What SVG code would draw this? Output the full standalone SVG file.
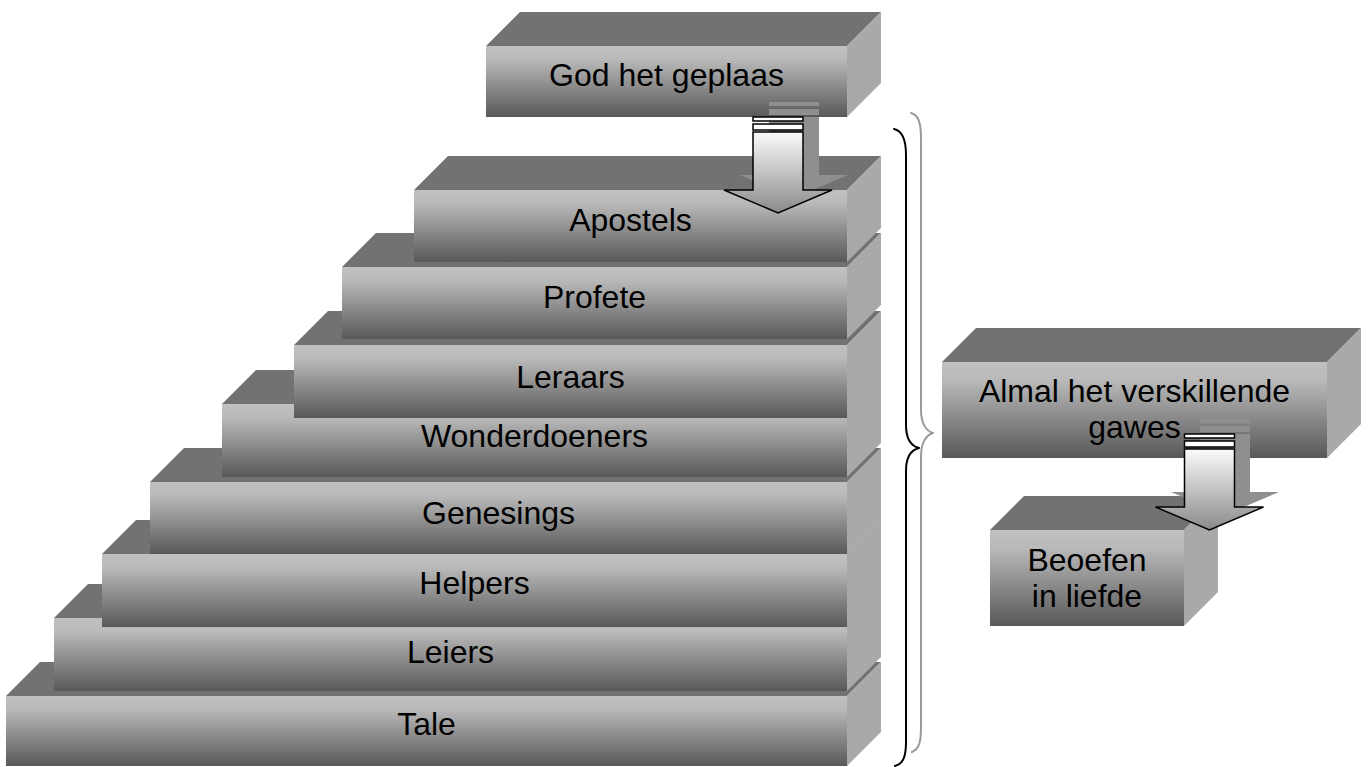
<svg xmlns="http://www.w3.org/2000/svg" xmlns:xlink="http://www.w3.org/1999/xlink" width="1371" height="767" viewBox="0 0 1371 767">
  <style>
    .front { fill: url(#frontGrad); }
    .top { fill: #727272; }
    .side { fill: #a9a9a9; }
    .label { font-family: "Liberation Sans", Arial, sans-serif; font-size: 32px; fill: #000; text-anchor: middle; }
    .brace { fill: none; stroke-width: 2; stroke-linecap: round; stroke-linejoin: round; }
  </style>
  <defs>
    <linearGradient id="frontGrad" x1="0" y1="0" x2="0" y2="1">
      <stop offset="0" stop-color="#c0c0c0"/>
      <stop offset="0.18" stop-color="#bababa"/>
      <stop offset="1" stop-color="#585858"/>
    </linearGradient>
    <linearGradient id="arrowGrad" x1="0" y1="0" x2="0" y2="1">
      <stop offset="0" stop-color="#fbfbfb"/>
      <stop offset="1" stop-color="#8a8a8a"/>
    </linearGradient>
    <!-- striped down arrow, origin at top centre of the first stripe -->
    <g id="arrowShadow" fill="#8f8f8f">
      <rect x="-25" y="0" width="50" height="4"/>
      <rect x="-25" y="7" width="50" height="6"/>
      <path d="M -25,15 L 25,15 L 25,73 L 54,73 L 0,96 L -54,73 L -25,73 Z"/>
    </g>
    <g id="arrowBody" stroke="#000" stroke-width="1.5" stroke-linejoin="miter">
      <rect x="-25" y="0" width="50" height="4" fill="#ffffff"/>
      <rect x="-25" y="7" width="50" height="6" fill="#ffffff"/>
      <path d="M -25,15 L 25,15 L 25,73 L 54,73 L 0,96 L -54,73 L -25,73 Z" fill="url(#arrowGrad)"/>
    </g>
  </defs>

  <rect width="1371" height="767" fill="#ffffff"/>

  <!-- stacked steps, drawn from the bottom up -->
  <g id="tale">
    <polygon class="top" points="6,696 847,696 881,662 40,662"/>
    <polygon class="side" points="847,696 881,662 881,732 847,766"/>
    <rect class="front" x="6" y="696" width="841" height="70"/>
    <text class="label" x="426.5" y="735">Tale</text>
  </g>
  <g id="leiers">
    <polygon class="top" points="54,618 847,618 881,584 88,584"/>
    <polygon class="side" points="847,618 881,584 881,657 847,691"/>
    <rect class="front" x="54" y="618" width="793" height="73"/>
    <text class="label" x="450.5" y="663">Leiers</text>
  </g>
  <g id="helpers">
    <polygon class="top" points="102,554 847,554 881,520 136,520"/>
    <polygon class="side" points="847,554 881,520 881,593 847,627"/>
    <rect class="front" x="102" y="554" width="745" height="73"/>
    <text class="label" x="474.5" y="594">Helpers</text>
  </g>
  <g id="genesings">
    <polygon class="top" points="150,482 847,482 881,448 184,448"/>
    <polygon class="side" points="847,482 881,448 881,520 847,554"/>
    <rect class="front" x="150" y="482" width="697" height="72"/>
    <text class="label" x="498.5" y="524">Genesings</text>
  </g>
  <g id="wonderdoeners">
    <polygon class="top" points="222,404 847,404 881,370 256,370"/>
    <polygon class="side" points="847,404 881,370 881,443 847,477"/>
    <rect class="front" x="222" y="404" width="625" height="73"/>
    <text class="label" x="534.5" y="447">Wonderdoeners</text>
  </g>
  <g id="leraars">
    <polygon class="top" points="294,345 847,345 881,311 328,311"/>
    <polygon class="side" points="847,345 881,311 881,384 847,418"/>
    <rect class="front" x="294" y="345" width="553" height="73"/>
    <text class="label" x="570.5" y="388">Leraars</text>
  </g>
  <g id="profete">
    <polygon class="top" points="342,267 847,267 881,233 376,233"/>
    <polygon class="side" points="847,267 881,233 881,305 847,339"/>
    <rect class="front" x="342" y="267" width="505" height="72"/>
    <text class="label" x="594.5" y="308">Profete</text>
  </g>
  <g id="apostels">
    <polygon class="top" points="414,190 847,190 881,156 448,156"/>
    <polygon class="side" points="847,190 881,156 881,228 847,262"/>
    <rect class="front" x="414" y="190" width="433" height="72"/>
    <text class="label" x="630.5" y="231">Apostels</text>
  </g>

  <g id="god-het-geplaas">
    <polygon class="top" points="486,46 847,46 881,12 520,12"/>
    <polygon class="side" points="847,46 881,12 881,83 847,117"/>
    <rect class="front" x="486" y="46" width="361" height="71"/>
    <text class="label" x="666.5" y="86">God het geplaas</text>
  </g>

  <g id="almal-het-verskillende-gawes">
    <polygon class="top" points="942,362 1327,362 1361,328 976,328"/>
    <polygon class="side" points="1327,362 1361,328 1361,424 1327,458"/>
    <rect class="front" x="942" y="362" width="385" height="96"/>
    <text class="label" x="1134.5" y="402">Almal het verskillende</text>
    <text class="label" x="1134.5" y="438">gawes</text>
  </g>

  <g id="beoefen-in-liefde">
    <polygon class="top" points="990,530 1184,530 1218,496 1024,496"/>
    <polygon class="side" points="1184,530 1218,496 1218,592 1184,626"/>
    <rect class="front" x="990" y="530" width="194" height="96"/>
    <text class="label" x="1087" y="571">Beoefen</text>
    <text class="label" x="1087" y="607">in liefde</text>
  </g>

  <!-- connectors: block arrows and the curly brace -->
  <g id="connectors">
    <use xlink:href="#arrowShadow" href="#arrowShadow" transform="translate(794,102)"/>
    <use xlink:href="#arrowBody" href="#arrowBody" transform="translate(778,117)"/>
    <use xlink:href="#arrowShadow" href="#arrowShadow" transform="translate(1225,419)"/>
    <use xlink:href="#arrowBody" href="#arrowBody" transform="translate(1209.5,434)"/>

    <path class="brace" stroke="#9a9a9a" d="M 911,113 C 919,115 921,124 921,139 L 921,410 C 921,423 926,431 933,433 C 926,435 921,443 921,456 L 921,728 C 921,742 919,749 912,752"/>
    <path class="brace" stroke="#000000" d="M 894,129 C 903,131 906,140 906,155 L 906,425 C 906,438 911,446 919,448 C 911,450 906,458 906,471 L 906,742 C 906,757 903,764 895,766"/>
  </g>
</svg>
